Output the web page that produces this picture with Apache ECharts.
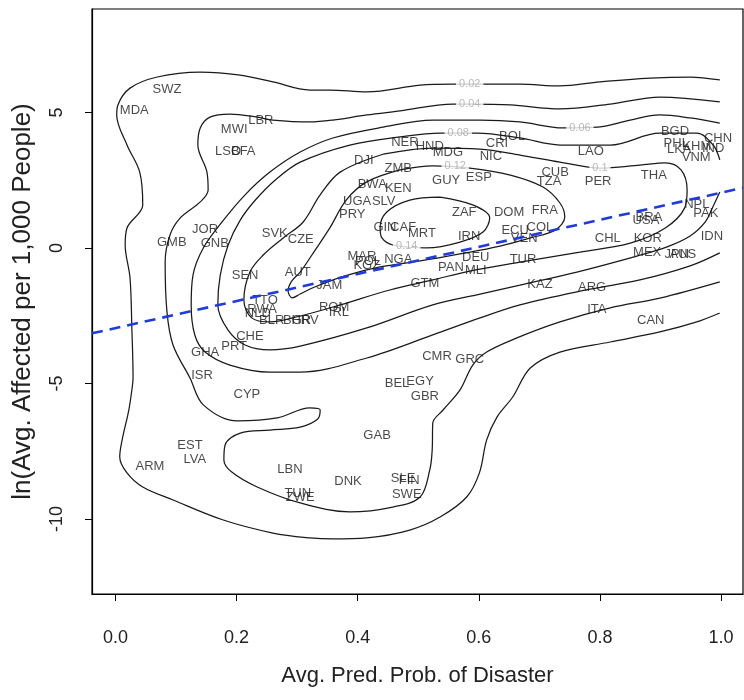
<!DOCTYPE html>
<html>
<head>
<meta charset="utf-8">
<script src="https://cdn.jsdelivr.net/npm/echarts@6/dist/echarts.min.js"></script>
<style>
  html, body { margin: 0; padding: 0; background: #fff; }
  #chart { width: 744px; height: 700px; }
</style>
</head>
<body>
<div id="chart"></div>
<script>
  // axis ticks
  const xTicks = [0, 0.2, 0.4, 0.6, 0.8, 1.0];
  const yTicks = [-10, -5, 0, 5];

  // country codes and positions (x = avg. predicted prob., y = ln affected)
  const countryCodes = ['SWZ', 'MDA', 'MWI', 'LBR', 'LSO', 'BFA', 'NER', 'HND', 'MDG', 'BOL', 'CRI', 'NIC',
    'DJI', 'ZMB', 'GUY', 'ESP', 'BWA', 'KEN', 'UGA', 'SLV', 'PRY', 'GIN', 'CAF', 'MRT', 'ZAF', 'IRN',
    'DOM', 'FRA', 'ECU', 'COL', 'VEN', 'LAO', 'CUB', 'TZA', 'PER', 'THA', 'BGD', 'PHL', 'LKA', 'KHM',
    'IND', 'VNM', 'CHN', 'NPL', 'PAK', 'IDN', 'BRA', 'USA', 'CHL', 'KOR', 'MEX', 'JPN', 'AUS', 'TUR',
    'KAZ', 'ARG', 'ITA', 'CAN', 'DEU', 'MLI', 'PAN', 'GTM', 'NGA', 'MAR', 'POL', 'KGZ', 'JAM', 'ROM',
    'IRL', 'BLR', 'BGR', 'HRV', 'TTO', 'RWA', 'NLD', 'SVK', 'CZE', 'AUT', 'SEN', 'JOR', 'GNB', 'GMB',
    'CHE', 'PRT', 'GHA', 'ISR', 'CYP', 'CMR', 'GRC', 'BEL', 'EGY', 'GBR', 'GAB', 'EST', 'LVA', 'ARM',
    'LBN', 'TUN', 'ZWE', 'DNK', 'SLE', 'FIN', 'SWE'];
  const countryX = [0.085, 0.031, 0.196, 0.240, 0.186, 0.211, 0.478, 0.519, 0.549, 0.655, 0.630, 0.620,
    0.410, 0.467, 0.546, 0.600, 0.424, 0.467, 0.399, 0.443, 0.391, 0.445, 0.475, 0.506, 0.576, 0.584,
    0.650, 0.709, 0.660, 0.701, 0.675, 0.785, 0.726, 0.716, 0.797, 0.889, 0.924, 0.926, 0.931, 0.960,
    0.987, 0.959, 0.995, 0.960, 0.975, 0.985, 0.881, 0.876, 0.813, 0.879, 0.878, 0.927, 0.937, 0.673,
    0.701, 0.787, 0.795, 0.884, 0.595, 0.595, 0.554, 0.511, 0.467, 0.407, 0.417, 0.415, 0.353, 0.361,
    0.369, 0.258, 0.300, 0.313, 0.247, 0.242, 0.235, 0.263, 0.306, 0.301, 0.214, 0.148, 0.164, 0.093,
    0.222, 0.196, 0.148, 0.143, 0.217, 0.531, 0.585, 0.465, 0.503, 0.511, 0.432, 0.123, 0.131, 0.057,
    0.288, 0.301, 0.305, 0.384, 0.475, 0.485, 0.481];
  const countryY = [5.87, 5.06, 4.39, 4.72, 3.58, 3.58, 3.91, 3.73, 3.54, 4.13, 3.87, 3.39,
    3.25, 2.95, 2.51, 2.62, 2.36, 2.18, 1.73, 1.73, 1.25, 0.77, 0.77, 0.52, 1.33, 0.41,
    1.33, 1.37, 0.66, 0.77, 0.37, 3.58, 2.80, 2.47, 2.47, 2.69, 4.32, 3.87, 3.62, 3.73,
    3.69, 3.36, 4.06, 1.62, 1.29, 0.41, 1.14, 1.00, 0.37, 0.37, -0.15, -0.22, -0.22, -0.41,
    -1.33, -1.44, -2.25, -2.66, -0.33, -0.81, -0.70, -1.29, -0.41, -0.30, -0.48, -0.63, -1.37, -2.18,
    -2.36, -2.69, -2.66, -2.66, -1.92, -2.25, -2.40, 0.52, 0.30, -0.92, -1.00, 0.70, 0.15, 0.22,
    -3.28, -3.65, -3.87, -4.69, -5.42, -3.99, -4.10, -4.98, -4.91, -5.46, -6.90, -7.27, -7.82, -8.08,
    -8.19, -9.04, -9.19, -8.60, -8.49, -8.56, -9.08];

  // fitted line, end points at the plot edges
  const fitX = [-0.0388, 1.0363];
  const fitY = [-3.15, 2.22];

  // density contours
  const contour02 = [[0.998, 6.20], [0.949, 6.31], [0.883, 6.27], [0.800, 6.13], [0.734, 5.98], [0.668, 6.05],
    [0.613, 6.05], [0.557, 6.05], [0.503, 6.01], [0.415, 5.76], [0.354, 5.83], [0.321, 5.83], [0.260, 6.13],
    [0.206, 6.38], [0.140, 6.49], [0.069, 6.31], [0.024, 5.90], [0.004, 5.28], [0.002, 4.91], [0.019, 3.80],
    [0.040, 2.80], [0.045, 1.59], [0.019, 0.74], [0.016, 0.11], [0.024, -1.11], [0.027, -2.95], [0.029, -4.80],
    [0.027, -5.24], [0.022, -5.98], [0.011, -7.08], [0.007, -7.71], [0.019, -8.30], [0.045, -8.82], [0.095, -9.30],
    [0.178, -10.04], [0.260, -10.52], [0.321, -10.70], [0.359, -10.74], [0.415, -10.70], [0.486, -10.41],
    [0.536, -9.93], [0.580, -9.19], [0.601, -8.30], [0.613, -7.08], [0.630, -6.24], [0.656, -5.50], [0.685, -4.43],
    [0.734, -3.84], [0.817, -3.47], [0.899, -3.10], [0.960, -2.73], [0.998, -2.40]];
  const contour04 = [[0.998, 5.39], [0.899, 5.57], [0.817, 5.31], [0.734, 5.13], [0.652, 5.28], [0.585, 5.31],
    [0.557, 5.31], [0.470, 5.06], [0.415, 4.91], [0.359, 4.72], [0.321, 4.65], [0.260, 4.72], [0.234, 4.83],
    [0.189, 4.94], [0.156, 4.83], [0.140, 4.43], [0.136, 3.80], [0.151, 2.80], [0.153, 2.14], [0.140, 1.70],
    [0.107, 1.11], [0.090, 0.48], [0.082, -0.52], [0.085, -2.36], [0.095, -3.58], [0.123, -4.80], [0.145, -5.79],
    [0.201, -6.38], [0.267, -6.27], [0.321, -5.90], [0.338, -5.98], [0.334, -6.31], [0.305, -6.61], [0.255, -6.72],
    [0.206, -6.83], [0.181, -7.27], [0.179, -7.82], [0.192, -8.27], [0.234, -8.82], [0.305, -9.41], [0.387, -9.74],
    [0.458, -9.56], [0.503, -9.19], [0.519, -8.19], [0.523, -7.45], [0.524, -6.46], [0.541, -5.98], [0.569, -5.24],
    [0.590, -4.32], [0.613, -3.84], [0.663, -3.32], [0.734, -2.73], [0.817, -2.21], [0.899, -1.85], [0.998, -1.25]];
  const contour06 = [[0.998, 4.61], [0.949, 4.80], [0.899, 4.91], [0.850, 4.72], [0.797, 4.46], [0.739, 4.43],
    [0.668, 4.65], [0.602, 4.72], [0.524, 4.72], [0.442, 4.46], [0.359, 4.06], [0.305, 3.54], [0.255, 2.80],
    [0.214, 1.96], [0.176, 0.96], [0.145, 0.00], [0.128, -1.00], [0.125, -2.10], [0.131, -3.21], [0.148, -3.84],
    [0.189, -4.32], [0.255, -4.58], [0.305, -4.58], [0.415, -4.06], [0.524, -3.21], [0.602, -2.58], [0.668, -2.10],
    [0.762, -1.62], [0.866, -1.18], [0.949, -0.66], [0.998, -0.18]];
  const contour08 = [[0.998, 3.25], [0.987, 3.80], [0.960, 4.24], [0.899, 4.24], [0.817, 3.80], [0.734, 3.80],
    [0.668, 4.06], [0.597, 4.24], [0.536, 4.24], [0.470, 4.10], [0.387, 3.80], [0.305, 3.17], [0.264, 2.51],
    [0.231, 1.77], [0.206, 1.03], [0.186, 0.11], [0.173, -1.00], [0.169, -2.10], [0.186, -3.03], [0.214, -3.58],
    [0.255, -3.76], [0.305, -3.62], [0.415, -2.95], [0.524, -2.10], [0.602, -1.70], [0.668, -1.37], [0.762, -0.89],
    [0.861, -0.30], [0.911, 0.04], [0.949, 0.44], [0.974, 0.96], [0.988, 1.59], [0.998, 2.07]];
  const contour10 = [[0.442, 3.46], [0.524, 3.69], [0.602, 3.65], [0.668, 3.43],
    [0.734, 3.17], [0.800, 2.95], [0.866, 3.06], [0.908, 3.14], [0.934, 2.88], [0.944, 2.14], [0.940, 1.48],
    [0.908, 0.74], [0.850, 0.18], [0.767, -0.15], [0.668, -0.52], [0.585, -0.85], [0.524, -1.18], [0.453, -1.55],
    [0.371, -2.10], [0.305, -2.51], [0.255, -2.73], [0.225, -2.58], [0.212, -1.92], [0.222, -0.89], [0.244, -0.26],
    [0.277, 0.37], [0.310, 0.96], [0.338, 1.96], [0.371, 2.80], [0.442, 3.46]];
  const contour12 = [[0.470, 2.88], [0.524, 3.03], [0.585, 2.95], [0.652, 2.69], [0.706, 2.25], [0.734, 1.66],
    [0.742, 1.14], [0.726, 0.66], [0.685, 0.37], [0.635, 0.07], [0.569, -0.22], [0.503, -0.48], [0.437, -0.70],
    [0.379, -1.03], [0.329, -1.44], [0.305, -1.70], [0.292, -1.84], [0.285, -1.58], [0.291, -1.22], [0.305, -0.89],
    [0.330, -0.07], [0.354, 0.74], [0.381, 1.77], [0.415, 2.44], [0.470, 2.88]];
  const contour14 = [[0.536, 1.88], [0.590, 1.59], [0.618, 1.11], [0.607, 0.59], [0.569, 0.22], [0.514, 0.00],
    [0.458, 0.11], [0.440, 0.37], [0.437, 0.74], [0.448, 1.33], [0.486, 1.77], [0.536, 1.88]];

  // contour level labels
  const levelNames = ['0.02', '0.04', '0.06', '0.08', '0.1', '0.12', '0.14'];
  const levelX = [0.585, 0.585, 0.767, 0.566, 0.800, 0.561, 0.481];
  const levelY = [6.05, 5.31, 4.43, 4.24, 2.95, 3.03, 0.07];

  const FONT = '"Liberation Sans", Arial, Helvetica, sans-serif';

  const chart = echarts.init(document.getElementById('chart'));

  function contourSeries(points) {
    return {
      type: 'line',
      data: points,
      symbol: 'none',
      smooth: 0.35,
      silent: true,
      z: 2,
      lineStyle: { color: '#1a1a1a', width: 1.25 }
    };
  }

  const contours = [contour02, contour04, contour06, contour08, contour10, contour12, contour14];

  chart.setOption({
    animation: false,
    backgroundColor: '#fff',
    textStyle: { fontFamily: FONT },
    grid: {
      left: 92, top: 9, width: 651, height: 585,
      show: true, borderColor: '#000', borderWidth: 1.2
    },
    xAxis: {
      type: 'value',
      min: -0.0388,
      max: 1.0363,
      name: 'Avg. Pred. Prob. of Disaster',
      nameLocation: 'middle',
      nameGap: 71,
      nameTextStyle: { fontSize: 22, color: '#222', fontFamily: FONT },
      axisLine: { show: true, onZero: false, lineStyle: { color: '#000', width: 1.2 } },
      axisTick: { show: true, length: 7, customValues: xTicks, lineStyle: { color: '#000' } },
      axisLabel: {
        customValues: xTicks,
        formatter: v => v.toFixed(1),
        fontSize: 18, color: '#222', margin: 35, fontFamily: FONT
      },
      splitLine: { show: false }
    },
    yAxis: {
      type: 'value',
      min: -12.77,
      max: 8.82,
      name: 'ln(Avg. Affected per 1,000 People)',
      nameLocation: 'middle',
      nameGap: 56,
      nameTextStyle: { fontSize: 26, color: '#222', fontFamily: FONT },
      axisLine: { show: true, onZero: false, lineStyle: { color: '#000', width: 1.2 } },
      axisTick: { show: true, length: 7, customValues: yTicks, lineStyle: { color: '#000' } },
      axisLabel: {
        customValues: yTicks,
        rotate: 90,
        fontSize: 18, color: '#222', margin: 26, fontFamily: FONT
      },
      splitLine: { show: false }
    },
    series: [
      ...contours.map(contourSeries),
      {
        // country labels
        type: 'scatter',
        symbolSize: 0,
        silent: true,
        z: 3,
        data: countryCodes.map((c, i) => ({ name: c, value: [countryX[i], countryY[i]] })),
        label: {
          show: true,
          position: 'inside',
          formatter: p => p.name,
          fontSize: 13,
          color: '#1a1a1a',
          fontFamily: FONT
        }
      },
      {
        // contour level labels
        type: 'scatter',
        symbolSize: 0,
        silent: true,
        z: 4,
        data: levelNames.map((n, i) => ({ name: n, value: [levelX[i], levelY[i]] })),
        label: {
          show: true,
          position: 'inside',
          formatter: p => p.name,
          fontSize: 11,
          color: '#a8a8a8',
          backgroundColor: '#fff',
          padding: [0, 3],
          fontFamily: FONT
        }
      },
      {
        // fitted regression line
        type: 'line',
        data: fitX.map((x, i) => [x, fitY[i]]),
        symbol: 'none',
        silent: true,
        z: 5,
        lineStyle: { color: '#1f3ae0', width: 2.6, type: [11, 7] }
      }
    ]
  });
</script>
</body>
</html>
